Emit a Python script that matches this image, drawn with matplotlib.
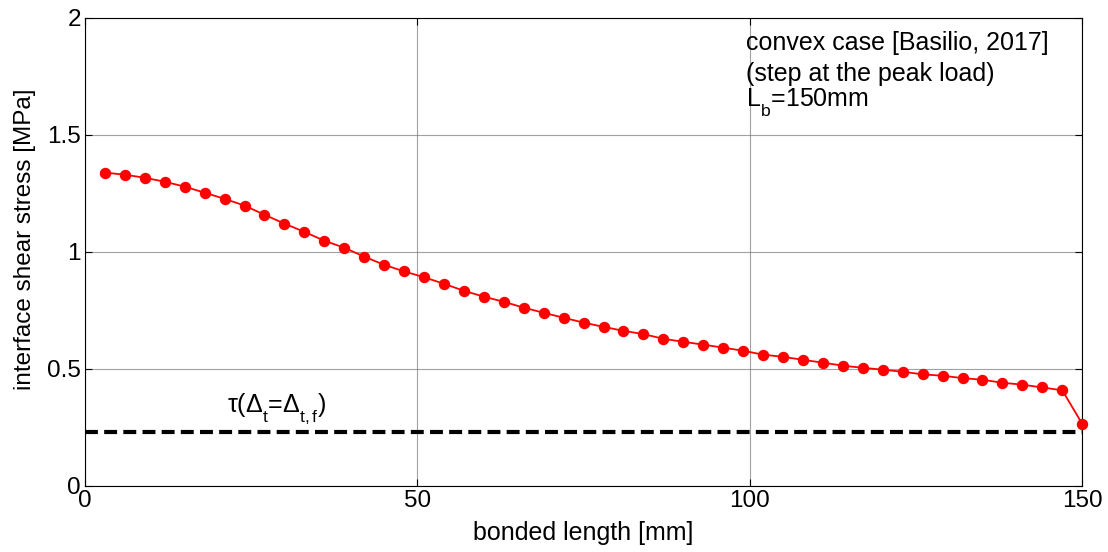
import matplotlib
matplotlib.use("Agg")
import matplotlib.pyplot as plt
import matplotlib._mathtext as mathtext_internals

plt.rcParams['font.family'] = ['Liberation Sans', 'DejaVu Sans']
plt.rcParams['mathtext.fontset'] = 'custom'
plt.rcParams['mathtext.rm'] = 'Liberation Sans'
plt.rcParams['mathtext.it'] = 'Liberation Sans'
# drop subscripts a bit lower than the default
try:
    mathtext_internals.FontConstantsBase.sub1 = 0.75
    mathtext_internals.FontConstantsBase.sub2 = 0.75
except Exception:
    pass

# Shear stress along the bonded length (mm, MPa)
bonded_length = [3, 6, 9, 12, 15, 18, 21, 24, 27, 30, 33, 36, 39, 42, 45, 48,
                 51, 54, 57, 60, 63, 66, 69, 72, 75, 78, 81, 84, 87, 90, 93, 96,
                 99, 102, 105, 108, 111, 114, 117, 120, 123, 126, 129, 132, 135,
                 138, 141, 144, 147, 150]
shear_stress = [1.338, 1.329, 1.316, 1.299, 1.278, 1.252, 1.226, 1.197, 1.158,
                1.120, 1.085, 1.047, 1.017, 0.979, 0.944, 0.916, 0.891, 0.863,
                0.833, 0.808, 0.786, 0.761, 0.739, 0.718, 0.697, 0.679, 0.662,
                0.648, 0.628, 0.615, 0.603, 0.590, 0.577, 0.560, 0.551, 0.538,
                0.526, 0.513, 0.504, 0.496, 0.487, 0.476, 0.470, 0.460, 0.453,
                0.440, 0.432, 0.420, 0.408, 0.265]
tau_limit = 0.23

x_ticks = [0, 50, 100, 150]
y_ticks = [0, 0.5, 1, 1.5, 2]
y_tick_labels = ['0', '0.5', '1', '1.5', '2']

fig = plt.figure(figsize=(11.08, 5.52), dpi=100)
ax = fig.add_axes([0.0767, 0.12, 0.9, 0.848])

ax.plot(bonded_length, shear_stress, color='red', lw=1.3, marker='o',
        markersize=7.2, zorder=3, clip_on=False)
ax.plot([0, 150], [tau_limit, tau_limit], color='black', lw=3,
        dashes=(3.1, 1.5), zorder=2)

ax.set_xlim(0, 150)
ax.set_ylim(0, 2)
ax.set_xticks(x_ticks)
ax.set_xticklabels([str(t) for t in x_ticks])
ax.set_yticks(y_ticks)
ax.set_yticklabels(y_tick_labels)
ax.grid(True, color='#7a7a7a', lw=0.8, alpha=0.7)
ax.tick_params(direction='in', labelsize=17.5, length=5, width=0.8,
               top=True, right=True, pad=3)
for s in ax.spines.values():
    s.set_linewidth(0.8)

ax.set_xlabel('bonded length [mm]', fontsize=18, labelpad=6.5)
ax.set_ylabel('interface shear stress [MPa]', fontsize=17.5)
ax.yaxis.set_label_coords(-0.049, 0.526)

ax.text(99.4, 1.893, 'convex case [Basilio, 2017]', fontsize=18,
        va='center', ha='left')
ax.text(99.4, 1.758, '(step at the peak load)', fontsize=18,
        va='center', ha='left')
ax.text(99.4, 1.622, r'L$_{\mathrm{b}}$=150mm', fontsize=18,
        va='baseline', ha='left')
ax.text(21.3, 0.318, r'τ(Δ$_{\mathrm{t}}$=Δ$_{\mathrm{t,f}}$)', fontsize=18,
        va='baseline', ha='left')

fig.savefig('out.png', dpi=100)
